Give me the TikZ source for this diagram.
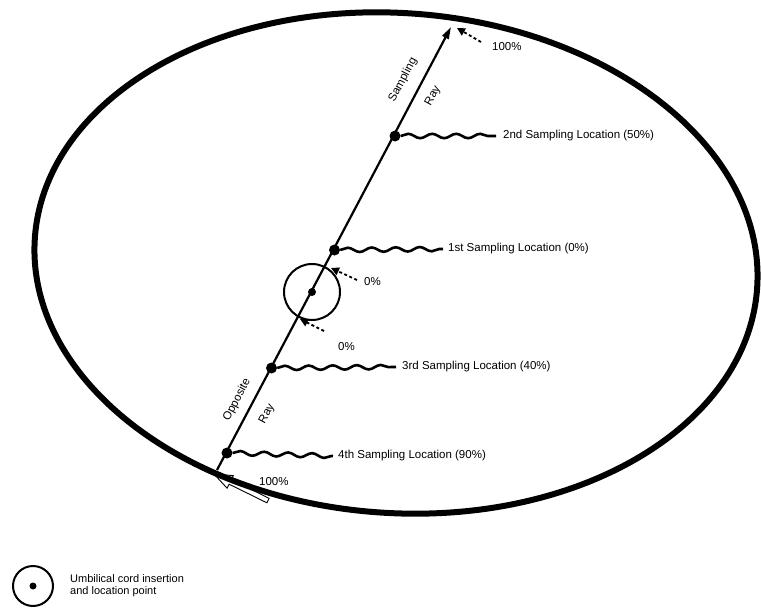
\documentclass[tikz,border=0pt]{standalone}
\usepackage{fontspec}
\setmainfont{Liberation Sans}
\usetikzlibrary{arrows.meta,decorations.pathmorphing}
\begin{document}
\begin{tikzpicture}[x=1pt,y=-1pt,
  lbl/.style={font=\fontsize{11.5}{12.5}\selectfont, inner sep=0pt, anchor=west},
  rlbl/.style={font=\fontsize{11.5}{12.5}\selectfont, inner sep=0pt, rotate=62},
  dotn/.style={circle, fill=black, minimum size=11pt, inner sep=0pt},
  wave/.style={line width=2.6pt, decorate, decoration={snake, segment length=24pt, amplitude=2.2pt}},
  ptr/.style={line width=1.8pt, dash pattern=on 3pt off 2.5pt, -{Triangle[length=8pt,width=8pt]}},
  raystyle/.style={line width=2.2pt, -{Triangle[length=12pt,width=7pt]}},
  ring/.style={circle, draw, line width=2pt, inner sep=0pt},
]
\useasboundingbox (0,0) rectangle (761,610);

% hollow pointer at the bottom end (drawn under the outline)
\draw[line width=0.9pt, line join=miter]
  (214,474) -- (233.3,475.6) -- (231.3,479.7) -- (269.1,498.3) -- (266.9,502.8)
  -- (229.1,484.2) -- (227.1,488.2) -- cycle;

% placenta outline
\draw[line width=6pt, rotate around={-4:(396,263)}] (396,263) ellipse [x radius=362, y radius=250];

% ray
\coordinate (rb) at (217,470);
\coordinate (rt) at (451,27);
\draw[raystyle] (rb) -- (rt);

% umbilical ring
\node[ring, minimum size=56pt] (umb) at (312,292) {};
\node[circle, fill=black, minimum size=8pt, inner sep=0pt] (umbc) at (312,292) {};

% sampling dots and labels
\node[dotn] (d2) at (395,136) {};
\node[dotn] (d1) at (334.5,250) {};
\node[dotn] (d3) at (271.5,368) {};
\node[dotn] (d4) at (227,453) {};

\node[lbl] (t2) at (503,136) {2nd Sampling Location (50\%)};
\node[lbl] (t1) at (448,249) {1st Sampling Location (0\%)};
\node[lbl] (t3) at (402,367) {3rd Sampling Location (40\%)};
\node[lbl] (t4) at (338,456) {4th Sampling Location (90\%)};

\draw[wave] (d2.east) -- ([xshift=-7pt]t2.west);
\draw[wave] (d1.east) -- ([xshift=-5pt]t1.west);
\draw[wave] (d3.east) -- ([xshift=-6pt]t3.west);
\draw[wave] (d4.east) -- ([xshift=-5pt]t4.west);

% ray labels
\node[rlbl] (sam) at (403,80) {Sampling};
\node[rlbl] (sray) at (433,96) {Ray};
\node[rlbl] (opp) at (237,400) {Opposite};
\node[rlbl] (oray) at (267,414) {Ray};

% percentage pointers
\node[lbl] (p100) at (492,47) {100\%};
\coordinate (p100s) at (481,42);
\coordinate (p100e) at (457,28);
\draw[ptr] (p100s) -- (p100e);

\node[lbl] (p0a) at (364,282) {0\%};
\coordinate (p0as) at (357,280);
\coordinate (p0ae) at (331,268);
\draw[ptr] (p0as) -- (p0ae);

\node[lbl] (p0b) at (338,347) {0\%};
\coordinate (p0bs) at (324,331);
\coordinate (p0be) at (300,319);
\draw[ptr] (p0bs) -- (p0be);

\node[lbl] (p100b) at (259,482) {100\%};

% legend
\node[ring, minimum size=40pt] (leg) at (33,586) {};
\node[circle, fill=black, minimum size=7pt, inner sep=0pt] (legc) at (33,586) {};
\node[lbl, align=left, font=\fontsize{11}{12}\selectfont] (legt) at (70,586) {Umbilical cord insertion\\and location point};
\end{tikzpicture}
\end{document}
